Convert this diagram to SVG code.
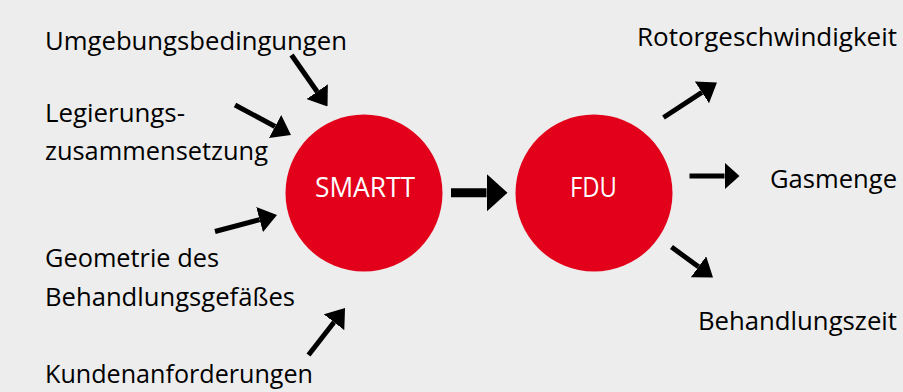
<svg xmlns="http://www.w3.org/2000/svg" width="903" height="392" viewBox="0 0 903 392">
<style>
.lbl{font-family:"Open Sans","Noto Sans","Liberation Sans",sans-serif;font-size:26px;fill:#000}
.in{font-family:"Open Sans","Noto Sans","Liberation Sans",sans-serif;font-size:28px;fill:#fff}
.c{fill:#e2001a}
.a{stroke:#000;stroke-width:5;fill:none}
.ab{stroke:#000;stroke-width:9;fill:none}
.as{stroke:#000;stroke-width:5;fill:none}
</style>
<defs>
<marker id="head" markerUnits="userSpaceOnUse" viewBox="0 -13 18 26" markerWidth="18" markerHeight="26" refX="0" refY="0" orient="auto"><path d="M0,-13 L18,0 L0,13 Z" fill="#000"/></marker>
<marker id="headB" markerUnits="userSpaceOnUse" viewBox="0 -19 21 38" markerWidth="21" markerHeight="38" refX="0" refY="0" orient="auto"><path d="M0,-19 L21,0 L0,19 Z" fill="#000"/></marker>
<marker id="headS" markerUnits="userSpaceOnUse" viewBox="0 -13.5 15 27" markerWidth="15" markerHeight="27" refX="0" refY="0" orient="auto"><path d="M0,-13.5 L15,0 L0,13.5 Z" fill="#000"/></marker>
</defs>
<rect width="903" height="392" fill="#ededed"/>
<g id="connectors">
<line class="a" x1="291.5" y1="55" x2="317.2" y2="91.7" marker-end="url(#head)"/>
<line class="a" x1="235" y1="105" x2="275.1" y2="126.5" marker-end="url(#head)"/>
<line class="a" x1="215" y1="231.5" x2="259.6" y2="219.6" marker-end="url(#head)"/>
<line class="a" x1="308.5" y1="355" x2="334" y2="322.2" marker-end="url(#head)"/>
<line class="ab" x1="451" y1="192.7" x2="486.5" y2="192.7" marker-end="url(#headB)"/>
<line class="a" x1="663.5" y1="117.5" x2="701.9" y2="92.4" marker-end="url(#head)"/>
<line class="as" x1="689.5" y1="176" x2="724.5" y2="176" marker-end="url(#headS)"/>
<line class="a" x1="671.5" y1="247" x2="698.5" y2="266.8" marker-end="url(#head)"/>
</g>
<g id="smartt">
<circle class="c" cx="364" cy="193" r="78.5"/>
<text class="in" x="315" y="196.7" textLength="100" lengthAdjust="spacingAndGlyphs">SMARTT</text>
</g>
<g id="fdu">
<circle class="c" cx="594" cy="193" r="78.5"/>
<text class="in" x="570" y="196.7" textLength="47" lengthAdjust="spacingAndGlyphs">FDU</text>
</g>
<g id="umgebung"><text class="lbl" x="45" y="50" textLength="302" lengthAdjust="spacingAndGlyphs">Umgebungsbedingungen</text></g>
<g id="legierung">
<text class="lbl" x="45" y="121.7" textLength="140" lengthAdjust="spacingAndGlyphs">Legierungs-</text>
<text class="lbl" x="45" y="160" textLength="223" lengthAdjust="spacingAndGlyphs">zusammensetzung</text>
</g>
<g id="geometrie">
<text class="lbl" x="45" y="267.3" textLength="174" lengthAdjust="spacingAndGlyphs">Geometrie des</text>
<text class="lbl" x="45" y="306" textLength="250" lengthAdjust="spacingAndGlyphs">Behandlungsgefäßes</text>
</g>
<g id="kunden"><text class="lbl" x="45" y="383.3" textLength="268" lengthAdjust="spacingAndGlyphs">Kundenanforderungen</text></g>
<g id="rotor"><text class="lbl" x="637" y="46" textLength="260" lengthAdjust="spacingAndGlyphs">Rotorgeschwindigkeit</text></g>
<g id="gas"><text class="lbl" x="770" y="188.3" textLength="127" lengthAdjust="spacingAndGlyphs">Gasmenge</text></g>
<g id="zeit"><text class="lbl" x="698" y="330" textLength="199" lengthAdjust="spacingAndGlyphs">Behandlungszeit</text></g>
</svg>
